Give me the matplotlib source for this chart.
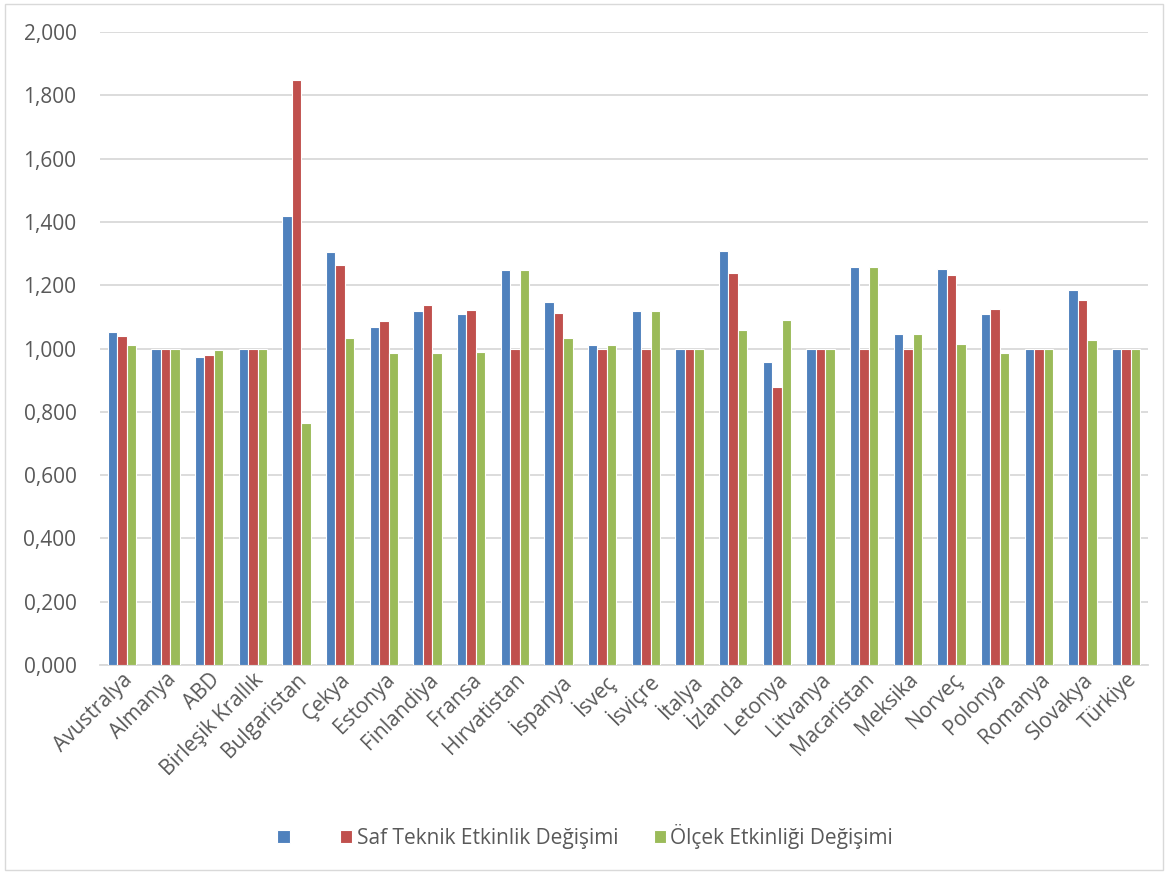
import numpy as np
import matplotlib
matplotlib.use("Agg")
import matplotlib.pyplot as plt
from matplotlib.ticker import FuncFormatter
from matplotlib.patches import Rectangle

plt.rcParams['font.family'] = ['Open Sans', 'DejaVu Sans']

ulkeler = ['Avustralya', 'Almanya', 'ABD', 'Birleşik Krallık', 'Bulgaristan', 'Çekya',
           'Estonya', 'Finlandiya', 'Fransa', 'Hırvatistan', 'İspanya', 'İsveç', 'İsviçre',
           'İtalya', 'İzlanda', 'Letonya', 'Litvanya', 'Macaristan', 'Meksika', 'Norveç',
           'Polonya', 'Romanya', 'Slovakya', 'Türkiye']

# mavi seri (etiketsiz)
seri_mavi = [1.052, 1.000, 0.973, 1.000, 1.418, 1.305, 1.069, 1.118, 1.110, 1.247, 1.147, 1.010,
             1.117, 1.000, 1.308, 0.956, 1.000, 1.258, 1.046, 1.250, 1.108, 1.000, 1.184, 1.000]
saf_teknik = [1.040, 1.000, 0.979, 1.000, 1.847, 1.265, 1.086, 1.137, 1.122, 1.000, 1.111, 1.000,
              1.000, 1.000, 1.237, 0.877, 1.000, 1.000, 1.000, 1.233, 1.124, 1.000, 1.153, 1.000]
olcek = [1.011, 1.000, 0.994, 1.000, 0.765, 1.033, 0.987, 0.985, 0.990, 1.247, 1.033, 1.010,
         1.117, 1.000, 1.057, 1.090, 1.000, 1.258, 1.046, 1.014, 0.987, 1.000, 1.027, 1.000]

seriler = [(seri_mavi, '  ', '#4F81BD'),
           (saf_teknik, 'Saf Teknik Etkinlik Değişimi', '#C0504D'),
           (olcek, 'Ölçek Etkinliği Değişimi', '#9BBB59')]

fig = plt.figure(figsize=(11.7, 8.72), dpi=100)
ax = fig.add_axes([100 / 1170, 1 - 665 / 872, 1048 / 1170, 633 / 872])

x = np.arange(len(ulkeler))
w = 0.215
for i, (vals, lab, col) in enumerate(seriler):
    ax.bar(x + (i - 1) * w, vals, width=w, color=col, edgecolor='white', linewidth=0.8,
           label=lab, zorder=3)

ax.set_xlim(-0.5, len(ulkeler) - 0.5)
ax.set_ylim(0, 2.0)
ax.set_yticks(np.arange(0, 2.01, 0.2))
ax.yaxis.set_major_formatter(FuncFormatter(lambda v, p: f'{v:.3f}'.replace('.', ',')))
ax.grid(axis='y', color='#D9D9D9', linewidth=1.3, zorder=0)
for s in ['top', 'right', 'left']:
    ax.spines[s].set_visible(False)
ax.spines['bottom'].set_color('#D9D9D9')
ax.spines['bottom'].set_linewidth(1.3)
ax.tick_params(axis='both', length=0, colors='#595959', labelsize=15)
ax.tick_params(axis='y', pad=17)
ax.set_xticks(x)
ax.set_xticklabels(ulkeler, rotation=45, ha='right', rotation_mode='anchor')
ax.tick_params(axis='x', pad=3)

leg = fig.legend(loc='center', bbox_to_anchor=(0.5, 1 - 836 / 872), ncol=3, frameon=False,
                 fontsize=15, handlelength=0.6, handleheight=0.6, handletextpad=0.2,
                 columnspacing=1.7)
for t in leg.get_texts():
    t.set_color('#595959')

fig.patches.append(Rectangle((5 / 1170, 2 / 872), 1158 / 1170, 866 / 872, transform=fig.transFigure,
                             fill=False, edgecolor='#D9D9D9', linewidth=1))

fig.savefig('out.png', dpi=100)
